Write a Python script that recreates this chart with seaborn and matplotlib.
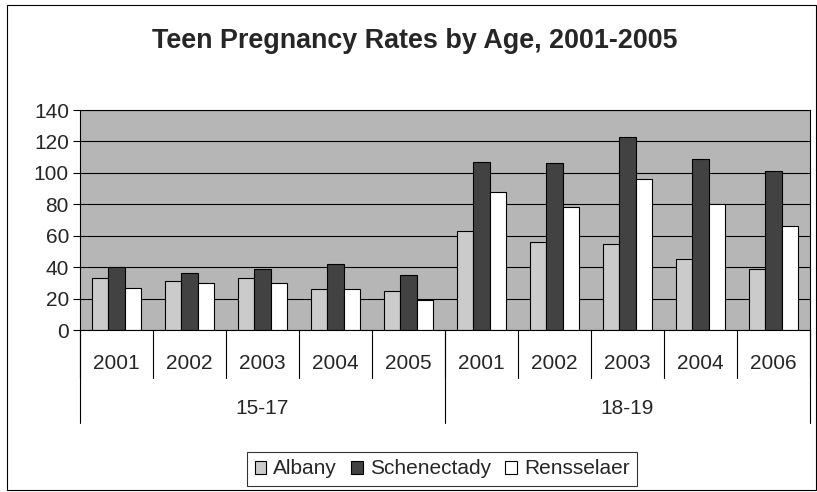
import pandas as pd
import numpy as np
import seaborn as sns
import matplotlib.pyplot as plt
from matplotlib.patches import Rectangle

# values
ages = ['15-17', '18-19']
years_1517 = ['2001', '2002', '2003', '2004', '2005']
years_1819 = ['2001', '2002', '2003', '2004', '2006']
counties = ['Albany', 'Schenectady', 'Rensselaer']

albany = [33, 31, 33, 26, 25, 63, 56, 55, 45, 39]
schenectady = [40, 36, 39, 42, 35, 107, 106, 123, 109, 101]
rensselaer = [27, 30, 30, 26, 19, 88, 78, 96, 80, 66]

yticks = [0, 20, 40, 60, 80, 100, 120, 140]
colors = ['#cbcbcb', '#424242', '#ffffff']

# long table for seaborn
year_labels = years_1517 + years_1819
age_labels = [ages[0]] * len(years_1517) + [ages[1]] * len(years_1819)
slots = [f'{a} {y}' for a, y in zip(age_labels, year_labels)]
rows = []
for c, vals in zip(counties, [albany, schenectady, rensselaer]):
    for s, v in zip(slots, vals):
        rows.append({'slot': s, 'county': c, 'rate': v})
df = pd.DataFrame(rows)

sns.set_style('white')
plt.rcParams['font.family'] = ['Liberation Sans', 'DejaVu Sans']
fs = 15

fig = plt.figure(figsize=(8.17, 4.92), dpi=100)
ax = fig.add_axes([80 / 817, 1 - 330 / 492, 730 / 817, 220 / 492])
ax.set_facecolor('#b6b6b6')

sns.barplot(data=df, x='slot', y='rate', hue='county', order=slots,
            hue_order=counties, palette=colors, width=0.68,
            edgecolor='black', linewidth=0.8, saturation=1, ax=ax)

ax.set_ylim(0, 140)
ax.set_xlim(-0.5, len(slots) - 0.5)
ax.set_yticks(yticks)
ax.set_yticklabels([str(t) for t in yticks], fontsize=fs)
ax.tick_params(axis='y', direction='out', length=5, width=0.8, color='black', pad=3, left=True)
ax.yaxis.grid(True, color='black', linewidth=0.8)
ax.set_axisbelow(True)
for sp in ax.spines.values():
    sp.set_color('black')
    sp.set_linewidth(0.8)
ax.set_xlabel('')
ax.set_ylabel('')

# two-level category axis
ax.set_xticks(range(len(slots)))
ax.set_xticklabels(year_labels, fontsize=fs)
ax.tick_params(axis='x', length=0, pad=17)
tr = ax.get_xaxis_transform()
for b in np.arange(-0.5, len(slots), 1.0):
    ax.plot([b, b], [0, -48 / 220], color='black', lw=0.8, transform=tr, clip_on=False)
for b in [-0.5, len(years_1517) - 0.5, len(slots) - 0.5]:
    ax.plot([b, b], [0, -93 / 220], color='black', lw=0.8, transform=tr, clip_on=False)
ax.text((len(years_1517) - 1) / 2, -78 / 220, ages[0], transform=tr,
        ha='center', va='center', fontsize=fs)
ax.text(len(years_1517) + (len(years_1819) - 1) / 2, -78 / 220, ages[1], transform=tr,
        ha='center', va='center', fontsize=fs)

fig.suptitle('Teen Pregnancy Rates by Age, 2001-2005', x=415 / 817, y=1 - 41 / 492,
             va='center', fontsize=19.4, fontweight='bold')

handles, labels = ax.get_legend_handles_labels()
leg = ax.legend(handles, labels, loc='center', bbox_to_anchor=(442 / 817, 1 - 469 / 492),
                bbox_transform=fig.transFigure, ncol=3, frameon=True, fancybox=False,
                edgecolor='black', fontsize=fs, handlelength=0.57, handleheight=0.57,
                handletextpad=0.33, columnspacing=0.67, borderpad=0.35, borderaxespad=0)
leg.get_frame().set_linewidth(0.8)

# outer chart border
fig.patches.append(Rectangle((7 / 817, 2 / 492), 1 - 7 / 817 - 1 / 817, 1 - 7 / 492,
                             transform=fig.transFigure, fill=False, edgecolor='black', lw=0.8))

fig.savefig('out.png', dpi=100)
